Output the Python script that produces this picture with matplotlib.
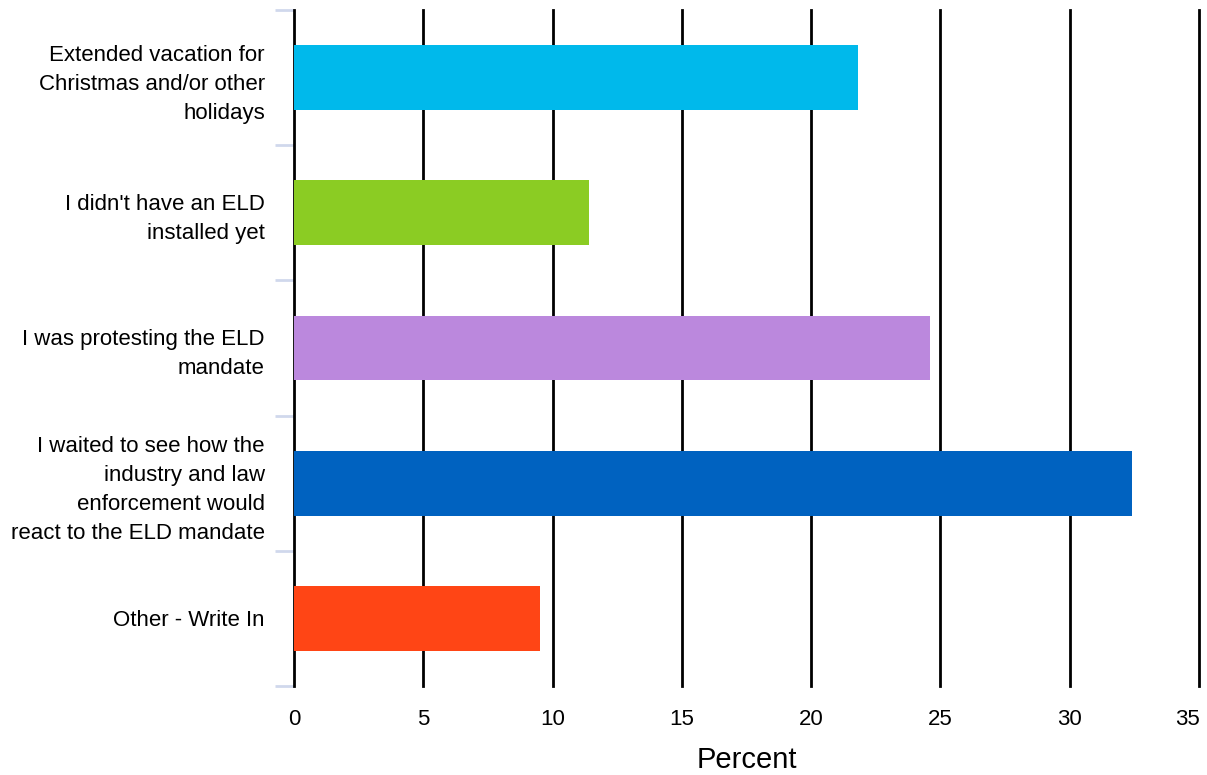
import matplotlib.pyplot as plt
import matplotlib.transforms as mtransforms
import numpy as np

plt.rcParams['font.family'] = ['Liberation Sans', 'DejaVu Sans']

categories = [
    "Extended vacation for\nChristmas and/or other\nholidays",
    "I didn't have an ELD\ninstalled yet",
    "I was protesting the ELD\nmandate",
    "I waited to see how the\nindustry and law\nenforcement would\nreact to the ELD mandate",
    "Other - Write In",
]
percent = [21.8, 11.4, 24.6, 32.4, 9.5]
colors = ["#00b9eb", "#8bcc23", "#bb88dd", "#0062c0", "#ff4515"]
xticks = [0, 5, 10, 15, 20, 25, 30, 35]

fig = plt.figure(figsize=(12.07, 7.75), dpi=100)
ax = fig.add_axes([0.2436, 0.115, 0.7498, 0.872])

y = np.arange(len(categories))
ax.barh(y, percent, height=0.48, color=colors, zorder=3)

ax.set_xlim(0, 35)
ax.set_ylim(len(categories) - 0.5, -0.5)
ax.set_xticks(xticks)
ax.set_xticklabels([str(t) for t in xticks], fontsize=16)
ax.tick_params(axis='x', length=0, pad=17)
for t in xticks:
    ax.axvline(t, color='black', lw=2, zorder=2, clip_on=False)

# last label sits a bit inside the right edge
last = ax.get_xticklabels()[-1]
last.set_transform(last.get_transform() + mtransforms.ScaledTranslation(-12 / 100, 0, fig.dpi_scale_trans))

ax.set_yticks(y)
ax.set_yticklabels(categories, fontsize=16, linespacing=1.5)
ax.tick_params(axis='y', which='major', length=0, pad=21)
ax.set_yticks(np.arange(len(categories) + 1) - 0.5, minor=True)
ax.tick_params(axis='y', which='minor', length=14, width=2, color='#d0d8ec')

for s in ax.spines.values():
    s.set_visible(False)

ax.set_xlabel("Percent", fontsize=21, labelpad=11)

fig.savefig("out.png", dpi=100)
